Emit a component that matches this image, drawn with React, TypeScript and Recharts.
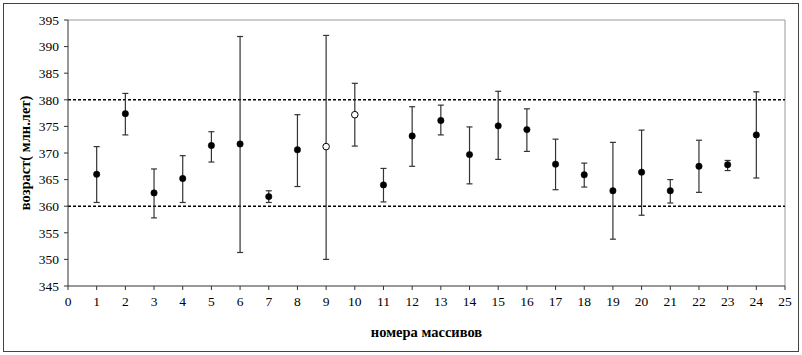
import React from "react"
import {
  ScatterChart,
  Scatter,
  XAxis,
  YAxis,
  ErrorBar,
  ReferenceLine,
  Label,
} from "recharts"

// massif numbers, ages and their error limits
const massifs = [1, 2, 3, 4, 5, 6, 7, 8, 9, 10, 11, 12, 13, 14, 15, 16, 17, 18, 19, 20, 21, 22, 23, 24]
const ages = [366.0, 377.4, 362.5, 365.2, 371.4, 371.7, 361.8, 370.6, 371.2, 377.2, 364.0, 373.2, 376.1, 369.7, 375.1, 374.4, 367.9, 365.9, 362.9, 366.4, 362.9, 367.5, 367.8, 373.4]
const lowerLimits = [360.7, 373.4, 357.8, 360.7, 368.3, 351.3, 360.7, 363.7, 350.0, 371.3, 360.8, 367.5, 373.4, 364.2, 368.8, 370.3, 363.1, 363.6, 353.8, 358.3, 360.6, 362.6, 366.7, 365.3]
const upperLimits = [371.2, 381.2, 367.0, 369.5, 374.0, 391.9, 362.9, 377.2, 392.1, 383.1, 367.1, 378.7, 379.0, 374.9, 381.6, 378.3, 372.6, 368.1, 372.0, 374.3, 365.0, 372.4, 368.6, 381.5]
// massifs drawn with open markers
const openMassifs = [9, 10]

const xTicks = [0, 1, 2, 3, 4, 5, 6, 7, 8, 9, 10, 11, 12, 13, 14, 15, 16, 17, 18, 19, 20, 21, 22, 23, 24, 25]
const yTicks = [345, 350, 355, 360, 365, 370, 375, 380, 385, 390, 395]
const limitLines = [360, 380]

const rows = massifs.map((m, i) => ({
  x: m,
  y: ages[i],
  err: [ages[i] - lowerLimits[i], upperLimits[i] - ages[i]],
  open: openMassifs.includes(m),
}))
const filledRows = rows.filter(r => !r.open)
const openRows = rows.filter(r => r.open)

const font = "'Liberation Serif', 'Times New Roman', serif"

const FilledDot = (props: any) => (
  <circle cx={props.cx} cy={props.cy} r={3.2} fill="#000" stroke="#000" strokeWidth={0.5} />
)
const OpenDot = (props: any) => (
  <circle cx={props.cx} cy={props.cy} r={3.3} fill="#fff" stroke="#000" strokeWidth={1} />
)

export default function App() {
  return (
    <div style={{ position: "absolute", left: 0, top: 0, width: 802, height: 355, background: "#fff" }}>
      <div
        style={{
          position: "absolute",
          left: 3,
          top: 3,
          width: 794,
          height: 347,
          border: "1.5px solid #444",
        }}
      />
      <div style={{ position: "absolute", left: 0, top: 0 }}>
        <ScatterChart
          width={802}
          height={355}
          margin={{ top: 20, right: 17, left: 0, bottom: 0 }}
        >
          <XAxis
            type="number"
            dataKey="x"
            domain={[0, 25]}
            ticks={xTicks}
            interval={0}
            allowDecimals={false}
            height={69}
            tickSize={4}
            tickMargin={6}
            stroke="#333"
            tick={{ fill: "#000", fontFamily: font, fontSize: 13.5 }}
          >
            <Label
              value="номера массивов"
              position="insideBottom"
              offset={18}
              style={{ fill: "#000", fontFamily: font, fontSize: 14.5, fontWeight: "bold" }}
            />
          </XAxis>
          <YAxis
            type="number"
            dataKey="y"
            domain={[345, 395]}
            ticks={yTicks}
            interval={0}
            width={68}
            tickSize={4}
            tickMargin={5}
            stroke="#333"
            tick={{ fill: "#000", fontFamily: font, fontSize: 13.5 }}
          >
            <Label
              value="возраст( млн.лет)"
              angle={-90}
              position="insideLeft"
              offset={25}
              style={{ textAnchor: "middle", fill: "#000", fontFamily: font, fontSize: 14.5, fontWeight: "bold" }}
            />
          </YAxis>
          <ReferenceLine y={395} stroke="#999" strokeWidth={1} />
          <ReferenceLine x={25} stroke="#999" strokeWidth={1} />
          {limitLines.map(v => (
            <ReferenceLine key={v} y={v} stroke="#000" strokeWidth={1.5} strokeDasharray="3 2" />
          ))}
          <Scatter data={filledRows} shape={FilledDot} isAnimationActive={false}>
            <ErrorBar dataKey="err" direction="y" width={3} stroke="#333" strokeWidth={1.2} />
          </Scatter>
          <Scatter data={openRows} shape={OpenDot} isAnimationActive={false}>
            <ErrorBar dataKey="err" direction="y" width={3} stroke="#333" strokeWidth={1.2} />
          </Scatter>
        </ScatterChart>
      </div>
    </div>
  )
}
